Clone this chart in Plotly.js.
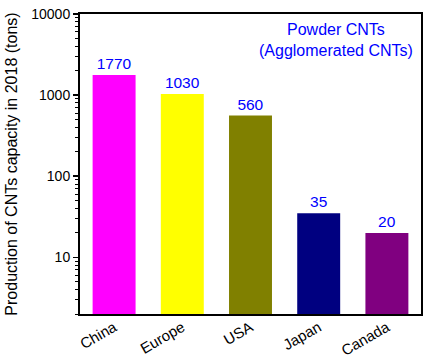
<!DOCTYPE html>
<html>
<head>
<meta charset="utf-8">
<script src="https://cdn.plot.ly/plotly-3.0.1.min.js"></script>
<style>html,body{margin:0;padding:0;background:#fff;}#chart{width:427px;height:361px;}</style>
</head>
<body>
<div id="chart"></div>
<script>
const countries = ["China", "Europe", "USA", "Japan", "Canada"];
const capacity = [1770, 1030, 560, 35, 20];
const barColors = ["#FF00FF", "#FFFF00", "#808000", "#000080", "#800080"];
const yTickVals = [10, 100, 1000, 10000];
const yTickText = ["10", "100", "1000", "10000"];

const font = "Liberation Sans, Arial, sans-serif";

Plotly.newPlot("chart", [{
  type: "bar",
  x: countries,
  y: capacity,
  marker: {color: barColors, line: {width: 0}},
  text: capacity.map(String),
  textposition: "outside",
  textfont: {family: font, size: 15.5, color: "#0000FF"},
  cliponaxis: false,
  hoverinfo: "none"
}], {
  width: 427, height: 361,
  margin: {l: 80, r: 6, t: 14, b: 47},
  paper_bgcolor: "#fff", plot_bgcolor: "#fff",
  bargap: 0.37,
  showlegend: false,
  font: {family: font, size: 14, color: "#000"},
  xaxis: {
    type: "category", range: [-0.5, 4.5],
    showline: true, linecolor: "#000", linewidth: 2, mirror: true,
    ticks: "", tickangle: -30, tickfont: {size: 15, color: "#000"},
    ticklabelstandoff: -3,
    showgrid: false, zeroline: false
  },
  yaxis: {
    type: "log", range: [Math.log10(2), 4],
    showline: true, linecolor: "#000", linewidth: 2, mirror: true,
    tickmode: "array", tickvals: yTickVals, ticktext: yTickText,
    ticks: "outside", ticklen: 5, tickwidth: 1.5, tickcolor: "#000",
    minor: {ticks: "outside", ticklen: 3, tickwidth: 1, tickcolor: "#000", dtick: "D1", showgrid: false},
    tickfont: {size: 14, color: "#000"},
    showgrid: false, zeroline: false,
    title: {text: "Production of CNTs capacity in 2018 (tons)", font: {size: 16, color: "#000"}, standoff: 10}
  },
  annotations: [{
    xref: "paper", yref: "paper", x: 0.752, y: 0.985, xanchor: "center", yanchor: "top",
    text: "Powder CNTs<br>(Agglomerated CNTs)", showarrow: false,
    font: {family: font, size: 16, color: "#0000FF"}, align: "center"
  }]
}, {displayModeBar: false, staticPlot: true});
</script>
</body>
</html>
